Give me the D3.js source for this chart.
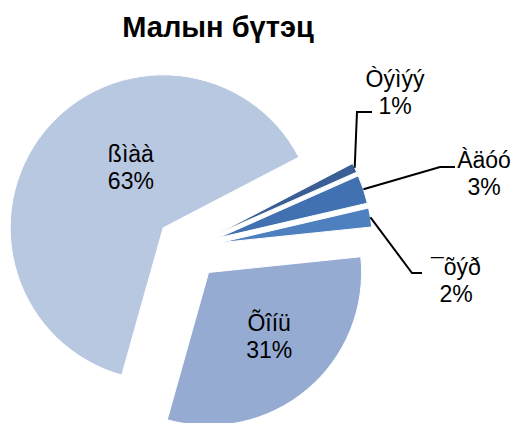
<!DOCTYPE html>
<html>
<head>
<meta charset="utf-8">
<script src="https://cdn.jsdelivr.net/npm/d3@7"></script>
<style>
  body { margin: 0; background: #fff; }
  text { font-family: "Liberation Sans", Arial, sans-serif; fill: #000; }
</style>
</head>
<body>
<svg id="chart" width="514" height="423"></svg>
<script>
// chart data
var categories = ["Òýìýý", "Àäóó", "¯õýð", "Õîíü", "ßìàà"];
var values = [1, 3, 2, 31, 63];
var percentLabels = ["1%", "3%", "2%", "31%", "63%"];
var colors = ["#3b5f94", "#4171b0", "#4e80c0", "#95abd2", "#b9c8e1"];

var svg = d3.select("#chart");
var cx = 188, cy = 248, radius = 153, explode = 32;
var startAngle = 62.5 * Math.PI / 180;

svg.append("text")
    .attr("x", 218).attr("y", 37)
    .attr("text-anchor", "middle")
    .style("font-size", "29px").style("font-weight", "bold")
    .text("Малын бүтэц");

var pie = d3.pie().sort(null).value(function (d) { return d; })
    .startAngle(startAngle).endAngle(startAngle + 2 * Math.PI);
var arcs = pie(values);
var arc = d3.arc().innerRadius(0).outerRadius(radius);

function mid(d) { return (d.startAngle + d.endAngle) / 2; }
function offset(d, r) {
    var a = mid(d);
    return [cx + r * Math.sin(a), cy - r * Math.cos(a)];
}

svg.selectAll("path.slice").data(arcs).enter().append("path")
    .attr("class", "slice")
    .attr("transform", function (d) { var p = offset(d, explode); return "translate(" + p[0] + "," + p[1] + ")"; })
    .attr("d", arc)
    .attr("fill", function (d, i) { return colors[i]; })
    .attr("stroke", "#fff").attr("stroke-width", 1);

// labels: inside for the big slices, with leader lines for the small ones
var inside = {3: {r: 126, da: 0}, 4: {r: 93, da: 13}};
var outside = {
    0: {elbow: [357, 112], end: [372, 112], text: [395, 87]},
    1: {elbow: [440, 167], end: [455, 167], text: [484, 168]},
    2: {elbow: [412, 273], end: [422, 273], text: [456, 275]}
};

arcs.forEach(function (d, i) {
    var pos, g;
    if (inside[i]) {
        var a = mid(d) + inside[i].da * Math.PI / 180;
        pos = [cx + inside[i].r * Math.sin(a), cy - inside[i].r * Math.cos(a) - 13];
    } else {
        var o = outside[i];
        var base = offset(d, explode);
        var a2 = mid(d);
        var start = [base[0] + radius * Math.sin(a2), base[1] - radius * Math.cos(a2)];
        svg.append("path")
            .attr("d", d3.line()([start, o.elbow, o.end]))
            .attr("fill", "none").attr("stroke", "#000").attr("stroke-width", 2);
        pos = o.text;
    }
    g = svg.append("text").attr("text-anchor", "middle").style("font-size", "23px");
    g.append("tspan").attr("x", pos[0]).attr("y", pos[1]).text(categories[i]);
    g.append("tspan").attr("x", pos[0]).attr("y", pos[1] + 27).text(percentLabels[i]);
});
</script>
</body>
</html>
